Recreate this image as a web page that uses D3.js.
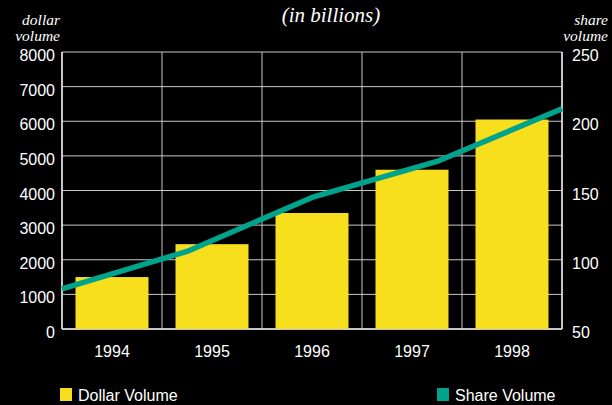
<!DOCTYPE html>
<html>
<head>
<meta charset="utf-8">
<script src="https://cdn.jsdelivr.net/npm/d3@7"></script>
<style>
  html, body { margin: 0; padding: 0; background: #000; }
  svg { display: block; }
</style>
</head>
<body>
<svg id="chart" width="612" height="405"></svg>
<script>
const years = ["1994", "1995", "1996", "1997", "1998"];
const dollarVolume = [1500, 2450, 3350, 4600, 6050];
const shareVolume = [79, 106, 145, 171, 209];
const leftTicks = [0, 1000, 2000, 3000, 4000, 5000, 6000, 7000, 8000];
const rightTicks = [50, 100, 150, 200, 250];

(function () {
const svg = d3.select("#chart");
const W = 612, H = 405;
svg.append("rect").attr("width", W).attr("height", H).attr("fill", "#000");

const pLeft = 62, pRight = 562, pTop = 52, pBottom = 329;

const x = d3.scaleBand().domain(years).range([pLeft, pRight])
  .paddingInner(0.27).paddingOuter(0.135);
const xp = d3.scalePoint().domain(years).range([pLeft, pRight]).padding(0);
const yL = d3.scaleLinear().domain([0, 8000]).range([pBottom, pTop]);
const yR = d3.scaleLinear().domain([50, 250]).range([pBottom, pTop]);

const sans = "'Liberation Sans', Arial, Helvetica, sans-serif";
const serif = "'Liberation Serif', 'Times New Roman', serif";

// horizontal gridlines
const g = svg.append("g");
g.selectAll("line.h").data(leftTicks).join("line")
  .attr("x1", pLeft).attr("x2", pRight)
  .attr("y1", d => yL(d)).attr("y2", d => yL(d))
  .attr("stroke", "#c8c8c8").attr("stroke-width", 1);

// vertical gridlines at band boundaries
const step = x.step();
const bounds = years.map(d => x(d) - step * x.paddingInner() / 2).concat([pRight]);
g.selectAll("line.v").data(bounds).join("line")
  .attr("x1", d => d).attr("x2", d => d)
  .attr("y1", pTop).attr("y2", pBottom)
  .attr("stroke", "#c8c8c8").attr("stroke-width", 1);

// frame
svg.append("line").attr("x1", pLeft).attr("x2", pLeft).attr("y1", pTop).attr("y2", pBottom)
  .attr("stroke", "#e6e6e6").attr("stroke-width", 1.5);
svg.append("line").attr("x1", pRight).attr("x2", pRight).attr("y1", pTop).attr("y2", pBottom)
  .attr("stroke", "#e6e6e6").attr("stroke-width", 1.5);
svg.append("line").attr("x1", pLeft).attr("x2", pRight).attr("y1", pBottom).attr("y2", pBottom)
  .attr("stroke", "#e6e6e6").attr("stroke-width", 1.5);

// bars
svg.append("g").selectAll("rect").data(years).join("rect")
  .attr("x", d => x(d))
  .attr("width", x.bandwidth())
  .attr("y", (d, i) => yL(dollarVolume[i]))
  .attr("height", (d, i) => pBottom - yL(dollarVolume[i]))
  .attr("fill", "#f7df1e");

// line
const line = d3.line().x((d, i) => xp(years[i])).y(d => yR(d));
svg.append("path").datum(shareVolume)
  .attr("d", line)
  .attr("fill", "none")
  .attr("stroke", "#00a38c")
  .attr("stroke-width", 5.5)
  .attr("stroke-linejoin", "round");

// left axis labels
svg.append("g").selectAll("text").data(leftTicks).join("text")
  .attr("x", 55).attr("y", d => yL(d) + 9)
  .attr("text-anchor", "end")
  .attr("font-family", sans).attr("font-size", 16)
  .attr("fill", "#fff")
  .text(d => d);

// right axis labels
svg.append("g").selectAll("text").data(rightTicks).join("text")
  .attr("x", 572).attr("y", d => yR(d) + 9)
  .attr("text-anchor", "start")
  .attr("font-family", sans).attr("font-size", 16)
  .attr("fill", "#fff")
  .text(d => d);

// x labels
svg.append("g").selectAll("text").data(years).join("text")
  .attr("x", d => x(d) + x.bandwidth() / 2).attr("y", 357)
  .attr("text-anchor", "middle")
  .attr("font-family", sans).attr("font-size", 16)
  .attr("fill", "#fff")
  .text(d => d);

// axis titles
const it = (txt, xx, yy, anchor, size) => svg.append("text")
  .attr("x", xx).attr("y", yy).attr("text-anchor", anchor)
  .attr("font-family", serif).attr("font-style", "italic")
  .attr("font-size", size).attr("fill", "#fff").text(txt);
it("dollar", 60, 25, "end", 15.5);
it("volume", 60, 41, "end", 15.5);
it("share", 608, 25, "end", 15.5);
it("volume", 608, 41, "end", 15.5);
it("(in billions)", 331, 22, "middle", 21);

// legend
const legend = [
  { label: "Dollar Volume", color: "#f7df1e", x: 60 },
  { label: "Share Volume", color: "#00a38c", x: 437 }
];
const lg = svg.append("g").selectAll("g").data(legend).join("g");
lg.append("rect").attr("x", d => d.x).attr("y", 388).attr("width", 12).attr("height", 13)
  .attr("fill", d => d.color);
lg.append("text").attr("x", d => d.x + 18).attr("y", 401)
  .attr("font-family", sans).attr("font-size", 16).attr("fill", "#fff")
  .text(d => d.label);
})();
</script>
</body>
</html>
